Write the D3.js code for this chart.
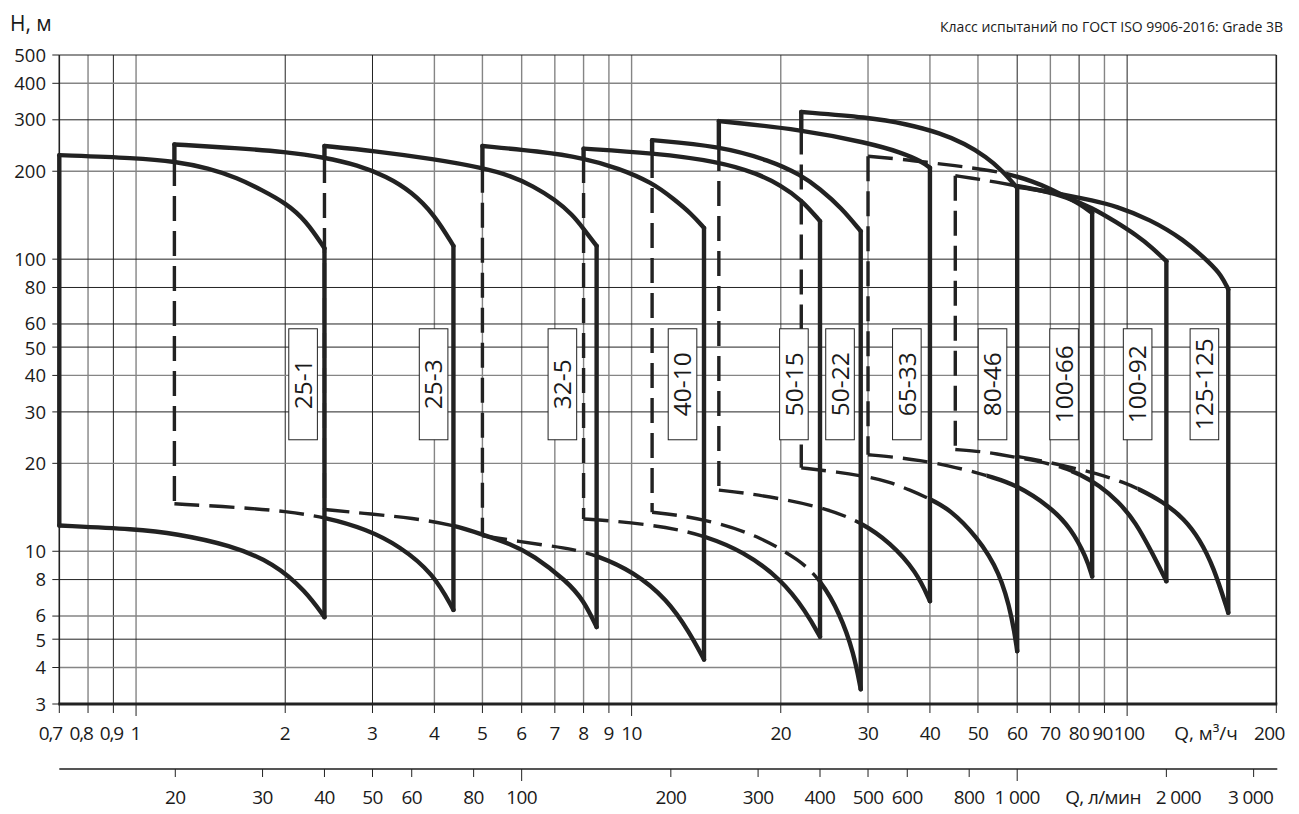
<!DOCTYPE html>
<html><head><meta charset="utf-8">
<script src="https://cdn.jsdelivr.net/npm/d3@7"></script>
<style>
body{margin:0;background:#fff}
svg text{font-family:"Open Sans","Noto Sans",sans-serif;fill:#1a1a1a}
</style>
</head><body>
<svg id="c" width="1299" height="814"></svg>
<script>
// ---------- data ----------
const xTicks = [0.7,0.8,0.9,1,2,3,4,5,6,7,8,9,10,20,30,40,50,60,70,80,90,100,200];
const xGridDark = [0.9,2,3,60,80,100];
const yTicks = [3,4,5,6,8,10,20,30,40,50,60,80,100,200,300,400,500];
const yGridDark = [5,8,30,50,60,80,100,300];
const lTicks = [20,30,40,50,60,80,100,200,300,400,500,600,800,1000,2000,3000];

const models = ["25-1","25-3","32-5","40-10","50-15","50-22","65-33","80-46","100-66","100-92","125-125"];
const qMin = [0.7,1.195,2.4,5,8,11,15,22,30,45,60];
const qMax = [2.4,4.37,8.5,14,24,29,40,60,85,120,160];
const qMinSolidTo = [12.25,217,222,205.5,222,231,244,278,225,193,177];
const topSolidFrom = [0.7,1.195,2.4,5,8,11,15,22,57,60,60];
const bottomSolidFrom = [0.7,2.4,4.37,8.5,14,24,29,40,52,77,105];
const labelQ = [2.173,3.985,7.25,12.67,21.26,26.34,35.93,53.5,74.6,105,143.2];
const labelH = 37.3;

const top25_1 = [[0.7,227],[1,222],[1.2,216],[1.4,205],[1.6,190],[1.8,172],[2.0,156],[2.2,136],[2.4,109]];
const top25_3 = [[1.195,247],[1.6,240],[2.0,233],[2.4,223],[2.8,210],[3.2,192],[3.6,170],[4.0,142],[4.37,111]];
const top32_5 = [[2.4,244],[3.0,235],[4.0,220],[5.0,205.5],[5.7,193],[6.33,178],[7.0,160],[7.6,142],[8.0,127],[8.5,111]];
const top40_10 = [[5,244],[6.5,234],[8,222],[9.4,205],[11,183],[12.2,160],[13.2,143],[14,128]];
const top50_15 = [[8,239],[11,231],[15,216],[18,196],[20,179],[22,160],[24,135]];
const top50_22 = [[11,255.5],[15,244],[19,218],[22,194],[24,174],[26.5,150],[29,124.7]];
const top65_33 = [[15,297],[22,278],[30,250],[35,232],[38.5,216],[40,205.5]];
const top80_46 = [[22,319],[30,306],[36,290],[42,270],[47,249],[52,224],[56,201],[60,175.5]];
const top100_66 = [[30,225],[35,220],[40,214],[45,209],[50,204],[57,197],[65,184],[70,174],[75,164],[80,155],[85,144]];
const top100_92 = [[45,193],[51,187],[54,184],[60,178],[67,172],[75,164],[85,150],[95,134],[105,120],[112,110],[120,98.4]];
const top125_125 = [[60,177],[67,172],[75,166],[85,159],[95,152],[111,137],[130,117],[147,97],[155,88],[160,78.8]];

const bot25_1 = [[0.7,12.25],[1,11.9],[1.2,11.5],[1.55,10.5],[1.9,9.1],[2.2,7.3],[2.4,5.95]];
const bot25_3 = [[1.195,14.54],[1.65,14.1],[2.0,13.7],[2.4,13.1],[2.92,11.9],[3.41,10.4],[3.98,8.4],[4.37,6.3]];
const bot32_5 = [[2.4,13.9],[3.0,13.4],[3.6,13.0],[4.37,12.3],[5.0,11.4],[5.7,10.6],[6.33,9.7],[7.4,7.9],[8.0,6.8],[8.5,5.5]];
const bot40_10 = [[5,11.3],[5.95,10.8],[6.93,10.4],[7.5,10.2],[8.5,9.7],[10.1,8.5],[11.8,6.85],[13.1,5.26],[14,4.26]];
const bot50_15 = [[8,12.9],[9.2,12.7],[10.9,12.3],[12.3,11.9],[14,11.3],[16.8,10],[20.1,8],[22.5,6.2],[24,5.1]];
const bot50_22 = [[11,13.6],[12.5,13.3],[15,12.5],[18.2,11.2],[21.9,9.3],[24,8.0],[26.3,6.16],[28.1,4.47],[29,3.37]];
const bot65_33 = [[15,16.2],[17.1,15.8],[20.6,15.0],[24.7,14.0],[29,12.6],[33.3,10.7],[37.6,8.5],[40,6.75]];
const bot80_46 = [[22,19.3],[26,18.7],[30.4,17.9],[33,17.3],[36.5,16.2],[40,15.1],[43.9,13.9],[49.6,11.3],[55.4,8.5],[58.8,5.8],[60,4.55]];
const bot100_66 = [[30,21.4],[34,21.0],[38,20.5],[43.9,19.6],[49.6,18.6],[53,18.0],[59.7,16.9],[70,14.2],[77,12],[82.8,9.5],[85,8.2]];
const bot100_92 = [[45,22.3],[51.3,21.9],[54.2,21.6],[60,20.9],[66.7,20.3],[74.6,19.3],[80,18.4],[88,16.8],[96,14.8],[104,12.6],[112.6,9.8],[120,7.9]];
const bot125_125 = [[60,21.1],[66.7,20.5],[74.6,19.6],[86.8,18.5],[99.4,17.1],[105,16.4],[118,14.8],[130.6,12.9],[140,11.0],[149.3,8.9],[160,6.16]];

const topCurves = [top25_1,top25_3,top32_5,top40_10,top50_15,top50_22,top65_33,top80_46,top100_66,top100_92,top125_125];
const bottomCurves = [bot25_1,bot25_3,bot32_5,bot40_10,bot50_15,bot50_22,bot65_33,bot80_46,bot100_66,bot100_92,bot125_125];

// ---------- drawing ----------
const W = 1299, Hh = 814;
const svg = d3.select("#c");
const x = d3.scaleLog().domain([0.7,200]).range([59.3,1276.3]);
const y = d3.scaleLog().domain([3,500]).range([704,55]);
const xl = d3.scaleLog().domain([0.7*1000/60,200*1000/60]).range(x.range());

const DARK = "#222", LIGHT = "#858585";
svg.append("g").selectAll("line").data(xTicks.filter(d => d > 0.7 && d < 200)).join("line")
  .attr("x1", d => x(d)).attr("x2", d => x(d)).attr("y1", y(500)).attr("y2", y(3))
  .attr("stroke", d => xGridDark.includes(d) ? DARK : LIGHT)
  .attr("stroke-width", d => xGridDark.includes(d) ? 1 : 1.4);
svg.append("g").selectAll("line").data(yTicks.filter(d => d > 3 && d < 500)).join("line")
  .attr("y1", d => y(d)).attr("y2", d => y(d)).attr("x1", x(0.7)).attr("x2", x(200))
  .attr("stroke", d => yGridDark.includes(d) ? DARK : LIGHT)
  .attr("stroke-width", d => yGridDark.includes(d) ? 1 : 1.4);

// frame
const frame = svg.append("g").attr("stroke", DARK).attr("fill", "none");
frame.append("line").attr("x1", x(0.7)).attr("x2", x(200)).attr("y1", y(500)).attr("y2", y(500)).attr("stroke-width", 1.2);
frame.append("line").attr("x1", x(200)).attr("x2", x(200)).attr("y1", y(500)).attr("y2", y(3)).attr("stroke-width", 1.6);
frame.append("line").attr("x1", x(0.7)).attr("x2", x(0.7)).attr("y1", y(500)).attr("y2", y(3)).attr("stroke-width", 1.6);
frame.append("line").attr("x1", x(0.7)-1).attr("x2", x(200)+1).attr("y1", y(3)).attr("y2", y(3)).attr("stroke-width", 3.2);

// y ticks & labels
svg.append("g").selectAll("line").data(yTicks).join("line")
  .attr("x1", x(0.7)-7).attr("x2", x(0.7)).attr("y1", d => y(d)).attr("y2", d => y(d))
  .attr("stroke", DARK).attr("stroke-width", 1);
const yNudge = {60: -1, 50: 1, 6: -1, 5: 1};
svg.append("g").selectAll("text").data(yTicks).join("text")
  .attr("x", 46).attr("y", d => y(d) + (yNudge[d] || 0)).attr("dy", "0.36em")
  .attr("text-anchor", "end").attr("font-size", 18.5).text(d => d);

// x ticks & labels
const decade = d => [1,10,100].includes(d);
svg.append("g").selectAll("line").data(xTicks).join("line")
  .attr("x1", d => x(d)).attr("x2", d => x(d)).attr("y1", y(3)).attr("y2", d => y(3) + (decade(d) ? 12 : 9))
  .attr("stroke", DARK).attr("stroke-width", 1);
const xShift = {0.7: -9, 0.8: -7, 0.9: -2, 90: -2, 100: 2, 200: -7};
svg.append("g").selectAll("text").data(xTicks).join("text")
  .attr("x", d => x(d) + (xShift[d] || 0)).attr("y", 740)
  .attr("text-anchor", "middle").attr("font-size", 19)
  .attr("letter-spacing", d => d < 1 ? -1.2 : (d >= 10 ? -0.6 : 0))
  .text(d => String(d).replace(".", ","));
svg.append("text").attr("x", 1206).attr("y", 740).attr("text-anchor", "middle").attr("font-size", 19).text("Q, м³/ч");

// lower axis (l/min)
const ly = 769;
svg.append("line").attr("x1", x.range()[0]).attr("x2", x.range()[1]+1).attr("y1", ly).attr("y2", ly)
  .attr("stroke", "#555").attr("stroke-width", 1.8);
svg.append("g").selectAll("line").data(lTicks).join("line")
  .attr("x1", d => xl(d)).attr("x2", d => xl(d)).attr("y1", ly).attr("y2", d => ly + ([100,1000].includes(d) ? 12 : 8))
  .attr("stroke", DARK).attr("stroke-width", 1);
const fmtL = d => d >= 1000 ? (d/1000) + "\u00a0000" : String(d);
const lShift = {2000: 12, 3000: -3};
svg.append("g").selectAll("text").data(lTicks).join("text")
  .attr("x", d => xl(d) + (lShift[d] || 0)).attr("y", 804).attr("text-anchor", "middle")
  .attr("font-size", 19).attr("letter-spacing", -0.6).text(fmtL);
svg.append("text").attr("x", 1103).attr("y", 804).attr("text-anchor", "middle").attr("font-size", 19)
  .attr("letter-spacing", -0.6).text("Q, л/мин");

// titles
svg.append("text").attr("x", 10).attr("y", 31).attr("font-size", 21).text("H, м");
svg.append("text").attr("x", 1283).attr("y", 32).attr("text-anchor", "end").attr("font-size", 14)
  .text("Класс испытаний по ГОСТ ISO 9906-2016: Grade 3B");

// curves
const line = d3.line().x(d => x(d[0])).y(d => y(d[1])).curve(d3.curveBasis);
const defs = svg.append("defs");
const dashedG = svg.append("g").attr("fill", "none").attr("stroke", DARK)
  .attr("stroke-width", 3.4).attr("stroke-dasharray", "25,10");
const solidG = svg.append("g").attr("fill", "none").attr("stroke", DARK)
  .attr("stroke-width", 4.4).attr("stroke-linejoin", "round").attr("stroke-linecap", "round");

function splitCurve(pts, solidFrom, id) {
  const xs = (solidFrom <= pts[0][0]) ? 0 : x(solidFrom);
  if (xs > 0) {
    defs.append("clipPath").attr("id", id + "d").append("rect")
      .attr("x", 0).attr("y", 0).attr("width", xs).attr("height", Hh);
    dashedG.append("path").attr("d", line(pts)).attr("clip-path", `url(#${id}d)`);
  }
  defs.append("clipPath").attr("id", id + "s").append("rect")
    .attr("x", xs).attr("y", 0).attr("width", W - xs).attr("height", Hh);
  solidG.append("path").attr("d", line(pts)).attr("clip-path", `url(#${id}s)`);
}

models.forEach((m, i) => {
  const tp = topCurves[i], bp = bottomCurves[i];
  const hTop = tp[0][1], hBot = bp[0][1];
  if (qMinSolidTo[i] < hTop) {
    solidG.append("path").attr("d", d3.line()([[x(qMin[i]), y(hTop)], [x(qMin[i]), y(qMinSolidTo[i])]]));
  }
  if (qMinSolidTo[i] > hBot) {
    dashedG.append("path").attr("d", d3.line()([[x(qMin[i]), y(qMinSolidTo[i])], [x(qMin[i]), y(hBot)]]));
  }
  splitCurve(tp, topSolidFrom[i], "t" + i);
  splitCurve(bp, bottomSolidFrom[i], "b" + i);
});
models.forEach((m, i) => {
  const tp = topCurves[i], bp = bottomCurves[i];
  solidG.append("path").attr("d", d3.line()([[x(qMax[i]), y(tp[tp.length-1][1])], [x(qMax[i]), y(bp[bp.length-1][1])]]));
});

// labels
const lab = svg.append("g");
models.forEach((m, i) => {
  const cx = x(labelQ[i]), cy = y(labelH);
  lab.append("rect").attr("x", cx - 14.3).attr("y", cy - 55.5).attr("width", 28.6).attr("height", 111)
    .attr("fill", "#fff").attr("stroke", DARK).attr("stroke-width", 1);
  lab.append("text").attr("transform", `translate(${cx},${cy}) rotate(-90)`)
    .attr("text-anchor", "middle").attr("dy", "0.36em").attr("font-size", 24.5).text(m);
});
</script>
</body></html>
